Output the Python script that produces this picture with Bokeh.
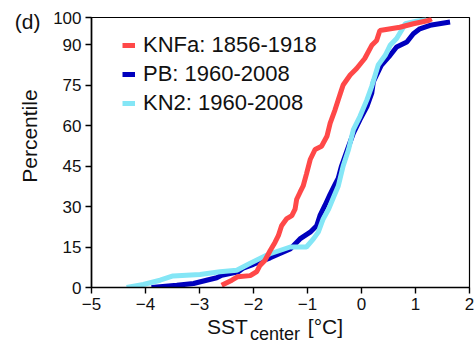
import math
from bokeh.plotting import figure
from bokeh.models import Range1d, FixedTicker, Legend, LegendItem, LinearAxis
from bokeh.embed import file_html
from bokeh.resources import INLINE

# ---- data ----
knfa_x = [-2.59, -2.40, -2.29, -2.06, -1.94, -1.88, -1.79, -1.69, -1.60, -1.54, -1.48, -1.39,
          -1.29, -1.23, -1.20, -1.14, -1.08, -1.02, -0.95, -0.86, -0.74, -0.64, -0.58, -0.49,
          -0.43, -0.37, -0.34, -0.21, -0.09, 0.06, 0.19, 0.28, 0.34, 0.71, 0.96, 1.24, 1.30]
knfa_y = [0.8, 2.7, 4.0, 4.4, 5.9, 8.2, 10.0, 13.7, 16.8, 19.2, 22.9, 25.4,
          26.6, 29.0, 32.7, 35.2, 37.6, 42.0, 47.4, 51.1, 52.3, 56.0, 60.9, 65.8,
          69.5, 73.2, 75.0, 78.7, 81.1, 84.8, 89.7, 91.5, 95.2, 96.4, 97.7, 98.9, 99.5]

pb_x = [-3.89, -3.42, -3.11, -2.87, -2.68, -2.59, -2.28, -2.19, -2.00, -1.69, -1.32, -1.14,
        -0.95, -0.83, -0.77, -0.68, -0.58, -0.49, -0.43, -0.37, -0.24, -0.15, -0.03, 0.10,
        0.19, 0.22, 0.37, 0.53, 0.65, 0.84, 0.96, 1.08, 1.27, 1.64]
pb_y = [0.0, 0.8, 1.5, 2.7, 3.6, 4.5, 5.8, 7.2, 8.6, 11.0, 14.3, 18.0,
        20.5, 22.9, 26.6, 30.3, 34.6, 38.2, 40.5, 45.0, 52.3, 57.2, 62.1, 67.0,
        72.0, 76.2, 82.4, 86.0, 89.1, 90.9, 94.0, 95.8, 97.1, 98.3]

kn2_x = [-4.35, -4.04, -3.73, -3.49, -2.99, -2.62, -2.31, -2.06, -1.76, -1.69, -1.32, -1.02,
         -0.89, -0.80, -0.71, -0.61, -0.52, -0.43, -0.34, -0.24, -0.15, -0.03, 0.10, 0.19,
         0.31, 0.44, 0.53, 0.65, 0.74, 0.81, 1.02, 1.20]
kn2_y = [0.0, 1.1, 2.7, 4.3, 4.8, 5.8, 6.4, 9.0, 11.9, 12.5, 15.0, 15.0,
         18.0, 20.5, 25.4, 29.0, 33.3, 37.6, 45.0, 51.1, 58.5, 63.3, 69.5, 74.5,
         82.4, 86.0, 89.7, 92.2, 95.2, 97.7, 98.6, 99.2]

series_labels = ["KNFa: 1856-1918", "PB: 1960-2008", "KN2: 1960-2008"]
x_ticks = [-5, -4, -3, -2, -1, 0, 1, 2]
y_ticks = [0, 15, 30, 45, 60, 75, 90, 100]

panel_text = "(d)"
y_label = "Percentile"
x_label_main = "SST"
x_label_sub = "center"
x_label_unit = "[°C]"

FONT = "Liberation Sans"
RED, BLUE, CYAN = "#FF4848", "#0000BE", "#84E6F6"
TXT = "#111111"

p = figure(width=475, height=346, output_backend="svg", toolbar_location=None,
           x_range=Range1d(-5, 2), y_range=Range1d(0, 100),
           min_border_left=91, min_border_right=6, min_border_top=17, min_border_bottom=57)
p.grid.visible = False
p.outline_line_color = "black"
p.outline_line_width = 1.2
p.background_fill_color = "white"
p.border_fill_color = "white"

for ax, ticks in ((p.xaxis[0], x_ticks), (p.yaxis[0], y_ticks)):
    ax.ticker = FixedTicker(ticks=ticks)
    ax.minor_tick_line_color = None
    ax.major_tick_in = 0
    ax.major_tick_out = 6
    ax.axis_line_width = 1.6
    ax.major_tick_line_width = 1.4
    ax.axis_line_color = "black"
    ax.major_tick_line_color = "black"
    ax.major_label_text_font = FONT
    ax.major_label_text_font_size = "17px"
    ax.major_label_text_color = TXT
    ax.major_label_standoff = 4


def text_axis(pos, labels, size, standoff, orientation="horizontal"):
    """An axis with no line or ticks, used only to place text labels outside the frame."""
    ticks = list(labels.keys())
    ax = LinearAxis(ticker=FixedTicker(ticks=ticks), major_label_overrides=labels,
                    axis_line_color=None, major_tick_line_color=None, minor_tick_line_color=None,
                    major_tick_in=0, major_tick_out=0, minor_tick_out=0,
                    major_label_standoff=standoff, major_label_orientation=orientation,
                    major_label_text_font=FONT, major_label_text_font_size=size,
                    major_label_text_color=TXT)
    p.add_layout(ax, pos)
    return ax


# text placements (positions along the axes, in data units)
text_axis("left", {56.07: y_label}, "21px", 9, "vertical")
text_axis("left", {98.4: panel_text}, "21px", -25)
text_axis("below", {-2.483: x_label_main, -0.667: x_label_unit}, "21px", 2)
text_axis("below", {-1.602: x_label_sub}, "18px", -17)

r_pb = p.line(pb_x, pb_y, line_color=BLUE, line_width=5)
r_kn2 = p.line(kn2_x, kn2_y, line_color=CYAN, line_width=5)
r_knfa = p.line(knfa_x, knfa_y, line_color=RED, line_width=5)

legend = Legend(items=[LegendItem(label=series_labels[0], renderers=[r_knfa]),
                       LegendItem(label=series_labels[1], renderers=[r_pb]),
                       LegendItem(label=series_labels[2], renderers=[r_kn2])],
                location=(31, 171), border_line_alpha=0, background_fill_alpha=0,
                padding=0, margin=0, spacing=3, glyph_width=13, glyph_height=26,
                label_height=26, label_standoff=8,
                label_text_font=FONT, label_text_font_size="22px", label_text_color=TXT)
p.add_layout(legend, "center")

open("out.html", "w").write(file_html(p, INLINE))
